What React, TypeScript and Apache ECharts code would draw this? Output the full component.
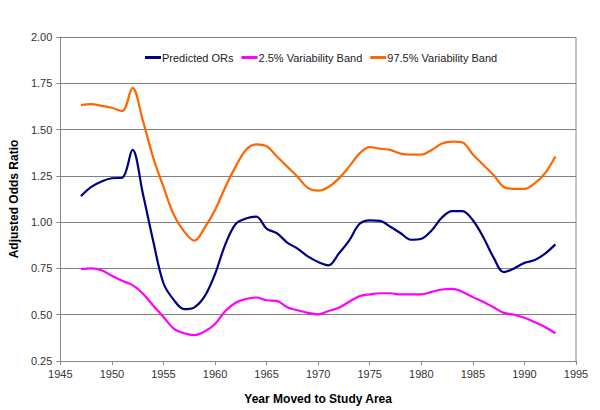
import React, { useEffect, useRef } from "react";
import * as echarts from "echarts";

const years = [
  1947, 1948, 1949, 1950, 1951, 1952, 1953, 1954, 1955, 1956, 1957, 1958, 1959, 1960,
  1961, 1962, 1963, 1964, 1965, 1966, 1967, 1968, 1969, 1970, 1971, 1972, 1973, 1974,
  1975, 1976, 1977, 1978, 1979, 1980, 1981, 1982, 1983, 1984, 1985, 1986, 1987, 1988,
  1989, 1990, 1991, 1992, 1993,
];

const predicted = [
  1.14, 1.19, 1.22, 1.237, 1.24, 1.39, 1.155, 0.9, 0.67, 0.58, 0.53, 0.54, 0.6, 0.72,
  0.88, 0.99, 1.02, 1.03, 0.965, 0.94, 0.89, 0.857, 0.815, 0.785, 0.767, 0.83, 0.9, 0.99,
  1.01, 1.007, 0.975, 0.94, 0.905, 0.91, 0.955, 1.025, 1.06, 1.06, 1.01, 0.92, 0.81, 0.73,
  0.75, 0.78, 0.795, 0.83, 0.88,
];

const band025 = [
  0.746, 0.75, 0.74, 0.71, 0.683, 0.66, 0.615, 0.55, 0.488, 0.425, 0.4, 0.39, 0.41, 0.45,
  0.52, 0.565, 0.585, 0.593, 0.578, 0.575, 0.54, 0.524, 0.51, 0.502, 0.52, 0.537, 0.57, 0.6,
  0.61, 0.616, 0.616, 0.61, 0.61, 0.61, 0.623, 0.636, 0.64, 0.623, 0.595, 0.57, 0.54, 0.51,
  0.5, 0.484, 0.46, 0.434, 0.4,
];

const band975 = [
  1.632, 1.637, 1.628, 1.618, 1.6, 1.725, 1.55, 1.35, 1.19, 1.04, 0.95, 0.9, 0.97, 1.065,
  1.19, 1.3, 1.39, 1.42, 1.41, 1.355, 1.3, 1.245, 1.185, 1.17, 1.19, 1.235, 1.3, 1.37,
  1.405, 1.397, 1.39, 1.37, 1.365, 1.365, 1.39, 1.425, 1.435, 1.43, 1.365, 1.31, 1.255, 1.19,
  1.18, 1.18, 1.21, 1.265, 1.355,
];

const seriesNames = ["Predicted ORs", "2.5% Variability Band", "97.5% Variability Band"];
const seriesColors = ["#000080", "#FF00FF", "#FF6600"];

export default function App() {
  const ref = useRef<HTMLDivElement>(null);

  useEffect(() => {
    document.body.style.margin = "0";
    if (!ref.current) return;
    const chart = echarts.init(ref.current, undefined, { renderer: "svg" });
    const datasets = [predicted, band025, band975];
    const font = "Liberation Sans, Arial, sans-serif";
    chart.setOption({
      animation: false,
      backgroundColor: "#ffffff",
      textStyle: { fontFamily: font },
      grid: { left: 57, right: 24, top: 37, bottom: 49, containLabel: false },
      legend: {
        top: 47,
        left: 140,
        itemWidth: 16,
        itemHeight: 3,
        itemGap: 8,
        icon: "rect",
        textStyle: { fontSize: 11, color: "#222", fontFamily: font, padding: [0, 0, 0, -4] },
        data: seriesNames,
      },
      xAxis: {
        type: "value",
        min: 1945,
        max: 1995,
        interval: 5,
        name: "Year Moved to Study Area",
        nameLocation: "middle",
        nameGap: 32,
        nameTextStyle: { fontSize: 12, fontWeight: "bold", color: "#000", fontFamily: font },
        axisLine: { show: true, onZero: false, lineStyle: { color: "#888", width: 1 } },
        axisTick: { show: true, inside: false, length: 4, lineStyle: { color: "#888" } },
        axisLabel: {
          fontSize: 11,
          color: "#333",
          margin: 7,
          fontFamily: font,
          formatter: (v: number) => String(v),
        },
        splitLine: { show: false },
      },
      yAxis: {
        type: "value",
        min: 0.25,
        max: 2,
        interval: 0.25,
        name: "Adjusted Odds Ratio",
        nameLocation: "middle",
        nameGap: 37,
        nameTextStyle: { fontSize: 12, fontWeight: "bold", color: "#000", fontFamily: font },
        axisLine: { show: true, lineStyle: { color: "#888", width: 1 } },
        axisTick: { show: true, inside: false, length: 4, lineStyle: { color: "#888" } },
        axisLabel: {
          fontSize: 11,
          color: "#333",
          margin: 8,
          fontFamily: font,
          formatter: (v: number) => v.toFixed(2),
        },
        splitLine: { show: true, lineStyle: { color: "#808080", width: 1 } },
      },
      graphic: [
        {
          type: "line",
          shape: { x1: 576, y1: 37, x2: 576, y2: 361 },
          style: { stroke: "#888", lineWidth: 1 },
          silent: true,
        },
      ],
      series: seriesNames.map((name, i) => ({
        name,
        type: "line",
        smooth: 0.35,
        showSymbol: false,
        symbol: "none",
        lineStyle: { color: seriesColors[i], width: 2.2 },
        itemStyle: { color: seriesColors[i] },
        data: years.map((y, j) => [y, datasets[i][j]]),
      })),
    });
    return () => chart.dispose();
  }, []);

  return <div ref={ref} style={{ width: 600, height: 410 }} />;
}
